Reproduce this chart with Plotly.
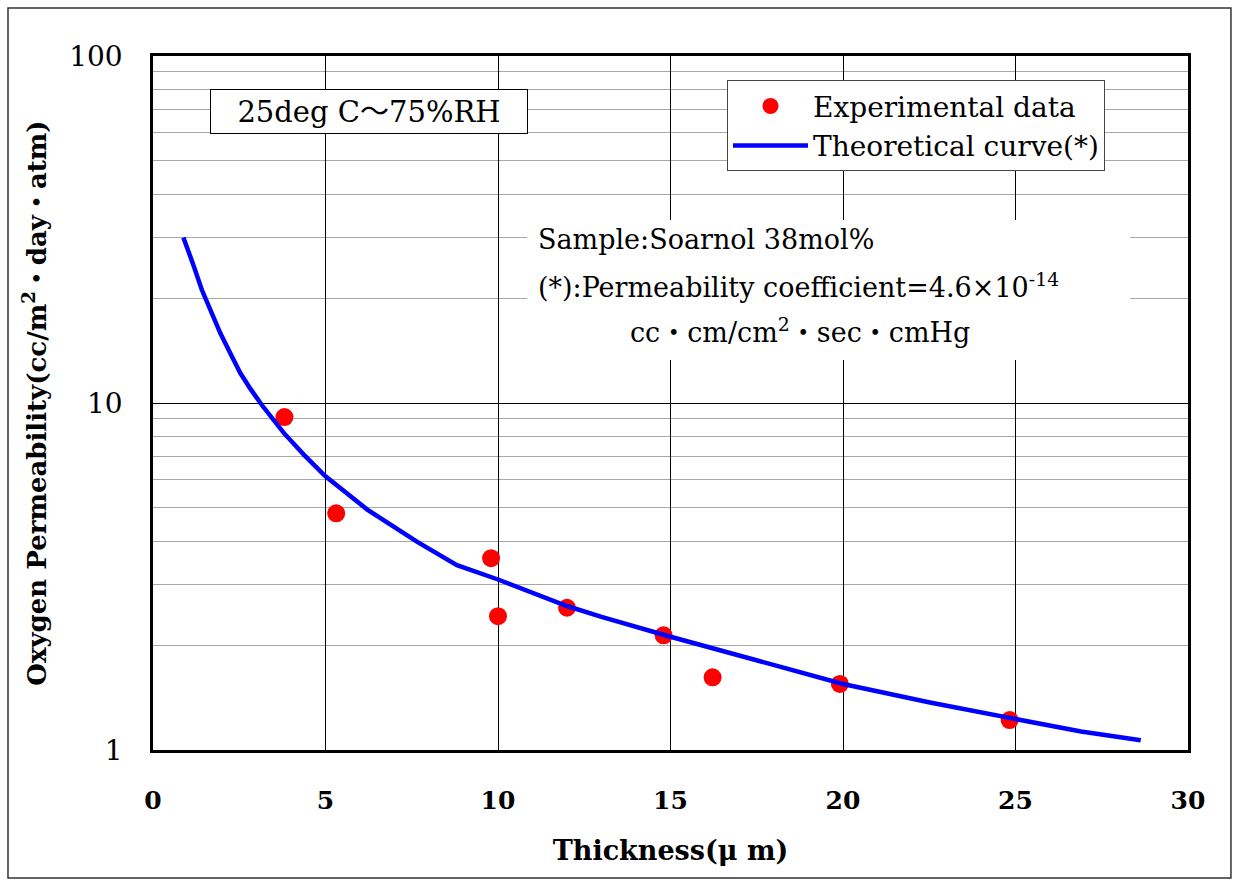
import plotly.graph_objects as go

# Experimental data (thickness in µm, permeability cc/m2·day·atm)
exp_thickness = [3.81, 5.31, 9.80, 10.0, 12.0, 14.8, 16.22, 19.91, 24.83]
exp_perm = [9.11, 4.81, 3.57, 2.43, 2.57, 2.14, 1.62, 1.55, 1.22]

# Theoretical curve
curve_thickness = [0.88, 1.01, 1.17, 1.415, 1.69, 1.95, 2.24, 2.53, 2.82, 3.16, 3.79,
                   4.37, 5.0, 6.21, 7.66, 8.81, 10.0, 12.0, 13.0, 15.0, 17.44, 20.0,
                   22.52, 25.0, 26.9, 28.63]
curve_perm = [30.0, 27.4, 25.0, 21.2, 18.2, 15.9, 13.9, 12.2, 11.0, 9.85, 8.2,
              7.1, 6.15, 4.93, 3.98, 3.41, 3.10, 2.60, 2.42, 2.12, 1.82, 1.55,
              1.37, 1.23, 1.13, 1.067]

x_ticks = [0, 5, 10, 15, 20, 25, 30]
y_ticks = [1, 10, 100]

FONT = "DejaVu Serif, Liberation Serif, Noto Sans CJK JP, serif"

fig = go.Figure()
fig.add_trace(go.Scatter(
    x=exp_thickness, y=exp_perm, mode="markers", name="Experimental data",
    marker=dict(color="#ff0000", size=18, symbol="circle"),
))
fig.add_trace(go.Scatter(
    x=curve_thickness, y=curve_perm, mode="lines", name="Theoretical curve(*)",
    line=dict(color="#0000ff", width=4.5),
))

sample_lines = [
    ("Sample:Soarnol 38mol%", 0.370, 0.735),
    ("(*):Permeability coefficient=4.6×10<sup>-14</sup>", 0.370, 0.670),
    ("cc・cm/cm<sup>2</sup>・sec・cmHg", 0.459, 0.605),
]

annotations = [
    dict(xref="paper", yref="paper", x=0.2087, y=0.920, xanchor="center", yanchor="middle",
         text="25deg C～75%RH", showarrow=False, font=dict(family=FONT, size=29),
         bgcolor="white", bordercolor="black", borderwidth=1, borderpad=4,
         width=308, height=35),
]
for txt, ax, ay in sample_lines:
    annotations.append(dict(xref="paper", yref="paper", x=ax, y=ay, xanchor="left",
                            yanchor="middle", text=txt, showarrow=False, align="left",
                            font=dict(family=FONT, size=27)))

fig.update_layout(
    width=1234, height=882,
    margin=dict(l=153, r=46, t=56, b=132),
    paper_bgcolor="white", plot_bgcolor="white",
    font=dict(family=FONT, color="black", size=24),
    showlegend=True,
    legend=dict(
        x=0.5546, y=0.965, xanchor="left", yanchor="top",
        bgcolor="white", bordercolor="#444", borderwidth=1,
        font=dict(family=FONT, size=28, color="black"),
        tracegroupgap=0, itemwidth=75,
    ),
    xaxis=dict(
        range=[0, 30], tickvals=x_ticks, ticktext=[f"<b>{v}</b>" for v in x_ticks],
        showgrid=True, gridcolor="black", gridwidth=1,
        showline=True, linecolor="black", linewidth=2.5, mirror=True,
        ticks="", ticklabelstandoff=26, zeroline=False,
        tickfont=dict(family=FONT, size=25),
        title=dict(text="<b>Thickness(μ m)</b>", font=dict(family=FONT, size=27), standoff=28),
    ),
    yaxis=dict(
        type="log", range=[0, 2], tickvals=y_ticks,
        ticktext=[str(v) for v in y_ticks],
        showgrid=True, gridcolor="black", gridwidth=1,
        minor=dict(dtick="D1", showgrid=True, gridcolor="#a8a8a8", gridwidth=1, ticks=""),
        showline=True, linecolor="black", linewidth=2.5, mirror=True,
        ticks="", ticklabelstandoff=22, zeroline=False,
        tickfont=dict(family=FONT, size=28),
        title=dict(text="<b>Oxygen Permeability(cc/m<sup>2</sup>・day・atm)</b>",
                   font=dict(family=FONT, size=26), standoff=16),
    ),
    shapes=[
        dict(type="rect", xref="paper", yref="paper",
             x0=-0.1401, x1=1.0415, y0=-0.1844, y1=1.0692,
             line=dict(color="#333", width=1.5), fillcolor="rgba(0,0,0,0)"),
        dict(type="rect", xref="paper", yref="paper", layer="above",
             x0=0.3614, x1=0.944, y0=0.562, y1=0.7637,
             line=dict(width=0), fillcolor="white"),
    ],
    annotations=annotations,
)

fig.write_html("out.html", config={"displayModeBar": False},
               post_script="document.body.style.margin='0';document.body.style.overflow='hidden';")
